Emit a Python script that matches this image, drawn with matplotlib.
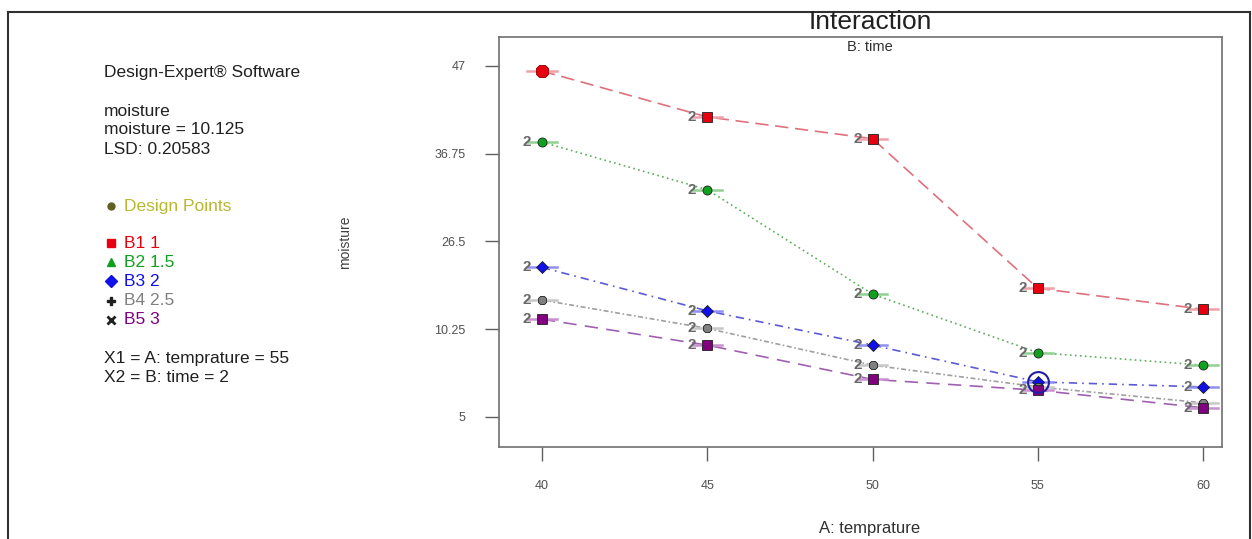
import numpy as np
import matplotlib
matplotlib.use("Agg")
import matplotlib.pyplot as plt
from matplotlib.lines import Line2D

plt.rcParams['font.family'] = ['Liberation Sans', 'DejaVu Sans']

# data
temperature = [40, 45, 50, 55, 60]
b1 = [46.4, 40.9, 38.3, 20.4, 17.9]
b2 = [37.9, 32.2, 19.7, 12.7, 11.2]
b3 = [22.9, 17.7, 13.6, 9.2, 8.6]
b4 = [19.0, 15.6, 11.2, 8.6, 6.7]
b5 = [16.7, 13.6, 9.5, 8.2, 6.1]
series_names = ["B1 1", "B2 1.5", "B3 2", "B4 2.5", "B5 3"]
y_ticks = [5, 15.5, 26, 36.5, 47]
y_tick_labels = ["5", "10.25", "26.5", "36.75", "47"]
x_ticks = [40, 45, 50, 55, 60]
current_point = (55, 9.2)

series = [b1, b2, b3, b4, b5]
line_cols = ['#e0707c', '#5aae5a', '#5a5ad8', '#a0a0a0', '#a060b0']
mark_cols = ['#e80010', '#10a020', '#1010e8', '#808080', '#800080']
bar_cols = ['#f0a0a8', '#90d090', '#9090f0', '#c8c8c8', '#c890d0']
markers = ['s', 'o', 'D', '8', 's']
dashes = [(8, 4), (1, 2), (5, 3, 1, 3), (1, 1.5, 3, 1.5), (8, 5)]
legend_markers = ['s', '^', 'D', 'P', 'x']
# points whose "2" label is hidden under a neighbour (series, index)
hidden_twos = {(0, 0), (2, 3), (3, 3), (3, 4)}

fig = plt.figure(figsize=(12.52, 5.39), dpi=100)
ax = fig.add_axes([499/1252, 1-447/539, 723/1252, 410/539])

for i, ys in enumerate(series):
    ax.plot(temperature, ys, color=line_cols[i], lw=1.2, dashes=dashes[i], zorder=2)
    for j, (x, y) in enumerate(zip(temperature, ys)):
        ax.plot([x-0.45, x+0.45], [y, y], color=bar_cols[i], lw=1.8, zorder=3)
        if i == 0 and j == 0:
            ax.plot(x, y, marker='8', ms=10, mfc=mark_cols[i], mec='#900000', mew=0.6, zorder=4)
        else:
            ax.plot(x, y, marker=markers[i], ms=6.5, mfc=mark_cols[i], mec='#202020', mew=0.6, zorder=4)
        if (i, j) in hidden_twos:
            continue
        ax.annotate("2", (x, y), xytext=(-11, 0), textcoords='offset points',
                    ha='center', va='center', fontsize=11, fontweight='bold',
                    color='#686868', zorder=5)

ax.plot(*current_point, marker='o', ms=15, mfc='none', mec='#2020a0', mew=1.5, zorder=6)

ax.set_xlim(38.7, 60.57)
ax.set_ylim(1.41, 50.47)
ax.set_xticks(x_ticks)
ax.set_xticklabels([str(t) for t in x_ticks])
ax.set_yticks(y_ticks)
ax.set_yticklabels(y_tick_labels)
ax.tick_params(direction='out', length=10, width=1, color='#606060',
               labelsize=9, labelcolor='#505050', pad=14)
for sp in ax.spines.values():
    sp.set_color('#707070')
    sp.set_linewidth(1.2)

ax.set_ylabel("moisture", fontsize=10, color='#404040')
ax.yaxis.set_label_coords(-0.203, 0.5)
ax.set_xlabel("A: temprature", fontsize=12, color='#303030')
ax.xaxis.set_label_coords(0.513, -0.18)

fig.text(870/1252, 1-22/539, "Interaction", fontsize=19, ha='center', va='center', color='#202020')
fig.text(870/1252, 1-47/539, "B: time", fontsize=10.5, ha='center', va='center', color='#303030')

# left info block
tx = 104/1252
def ypos(py):
    return 1 - py/539
fs = 12.5
fig.text(tx, ypos(73), "Design-Expert® Software", fontsize=fs, va='center', color='#202020')
fig.text(tx, ypos(111), "moisture", fontsize=fs, va='center', color='#202020')
fig.text(tx, ypos(130), "moisture = 10.125", fontsize=fs, va='center', color='#202020')
fig.text(tx, ypos(149), "LSD: 0.20583", fontsize=fs, va='center', color='#202020')

fig.lines.append(Line2D([111/1252], [ypos(206)], marker='o', ms=5, color='#606020',
                        transform=fig.transFigure))
fig.text(124/1252, ypos(206), "Design Points", fontsize=fs, va='center', color='#b8b830')
for i, name in enumerate(series_names):
    py = 243 + i*19.2
    fig.lines.append(Line2D([111/1252], [ypos(py)], marker=legend_markers[i], ms=6,
                            color='#202020' if i >= 3 else mark_cols[i],
                            mew=2 if i == 4 else 1, transform=fig.transFigure))
    fig.text(124/1252, ypos(py), name, fontsize=fs, va='center', color=mark_cols[i])

fig.text(tx, ypos(359), "X1 = A: temprature = 55", fontsize=fs, va='center', color='#202020')
fig.text(tx, ypos(378), "X2 = B: time = 2", fontsize=fs, va='center', color='#202020')

# outer frame
fr = dict(color='#303030', lw=1.5, transform=fig.transFigure)
fig.lines.append(Line2D([8/1252, 1250/1252], [ypos(12), ypos(12)], **fr))
fig.lines.append(Line2D([8/1252, 8/1252], [ypos(12), 0], **fr))
fig.lines.append(Line2D([1250/1252, 1250/1252], [ypos(12), 0], **fr))

fig.savefig("out.png", dpi=100)
